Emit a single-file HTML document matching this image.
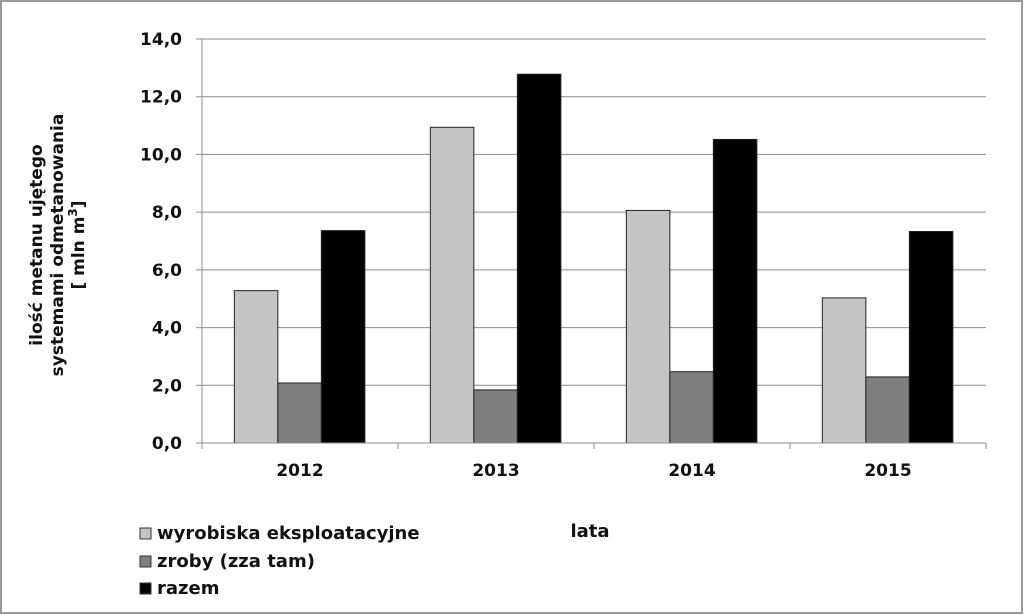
<!DOCTYPE html>
<html><head><meta charset="utf-8"><style>
html,body{margin:0;padding:0;background:#fff}
svg{display:block}
text{font-family:"DejaVu Sans","Liberation Sans",sans-serif;font-weight:bold;fill:#111}
</style></head><body>
<svg id="chart" width="1024" height="615" xmlns="http://www.w3.org/2000/svg">
<rect x="1" y="1" width="1021" height="612" fill="#fff" stroke="#999" stroke-width="2"/>
<g id="grid"></g><g id="bars"></g><g id="axes"></g>
<text x="0" y="0" transform="translate(55,245) rotate(-90)" text-anchor="middle" font-size="17"><tspan x="0" dy="-13">ilość metanu ujętego</tspan><tspan x="0" dy="21">systemami odmetanowania</tspan><tspan x="0" dy="21">[ mln m<tspan dy="-7" font-size="12">3</tspan><tspan dy="7">]</tspan></tspan></text>
<text x="590" y="537" text-anchor="middle" font-size="18">lata</text>
<g>
<g><rect x="140" y="528" width="11" height="11" fill="#c4c4c4" stroke="#333"/><text x="157" y="539" font-size="18">wyrobiska eksploatacyjne</text></g>
<g><rect x="140" y="556" width="11" height="11" fill="#7f7f7f" stroke="#333"/><text x="157" y="567" font-size="18">zroby (zza tam)</text></g>
<g><rect x="140" y="583" width="11" height="11" fill="#000" stroke="#333"/><text x="157" y="594" font-size="18">razem</text></g>
</g>
</svg>
<script>
const categories=["2012","2013","2014","2015"];
const wyrobiska=[5.28,10.94,8.06,5.03];
const zroby=[2.08,1.84,2.47,2.29];
const razem=[7.36,12.78,10.52,7.33];
const yTicks=[0,2,4,6,8,10,12,14];
const yTickLabels=["0,0","2,0","4,0","6,0","8,0","10,0","12,0","14,0"];
const NS="http://www.w3.org/2000/svg";
const X0=202,X1=986,Y0=443,Y1=39,YMAX=14;
const y=v=>Y0-(v/YMAX)*(Y0-Y1);
const cw=(X1-X0)/categories.length;
const x=i=>X0+i*cw;
function mk(t,a,p){const e=document.createElementNS(NS,t);for(const k in a)e.setAttribute(k,a[k]);p.appendChild(e);return e;}
const grid=document.getElementById('grid'),bars=document.getElementById('bars'),axes=document.getElementById('axes');
yTicks.forEach((v,i)=>{
 const l=mk('line',{x1:X0-6,x2:X1,y1:y(v),y2:y(v),stroke:'#8c8c8c','stroke-width':1},grid);
 
 
 const t=mk('text',{x:182,y:y(v)+6,'text-anchor':'end','font-size':17},axes);
 t.textContent=yTickLabels[i];
 
 
});
mk('line',{x1:X0,x2:X0,y1:Y1,y2:Y0+6,stroke:'#8c8c8c'},axes);
mk('line',{x1:X0,x2:X1,y1:Y0,y2:Y0,stroke:'#8c8c8c'},axes);
const series=[[wyrobiska,'#c4c4c4','wyrobiska'],[zroby,'#7f7f7f','zroby'],[razem,'#000','razem']];
const bw=cw*0.222,off=cw*0.165;
categories.forEach((c,i)=>{
 const tk=mk('line',{x1:x(i+1),x2:x(i+1),y1:Y0,y2:Y0+6,stroke:'#8c8c8c'},axes);
 
 
 const t=mk('text',{x:x(i)+cw/2,y:476,'text-anchor':'middle','font-size':17},axes);
 t.textContent=c;
 
 
 series.forEach((s,j)=>{
  const v=s[0][i];
  const r=mk('rect',{x:x(i)+off+j*bw,y:y(v),width:bw,height:Y0-y(v),fill:s[1],stroke:'#222','stroke-width':1},bars);
  
  
 });
});
</script>
</body></html>
